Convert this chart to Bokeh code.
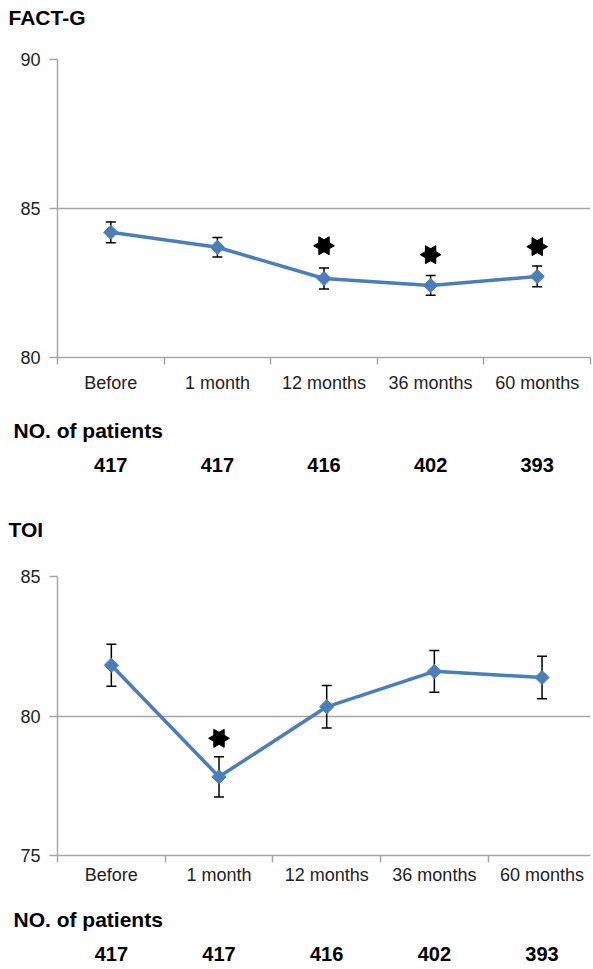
from bokeh.plotting import figure
from bokeh.layouts import column
from bokeh.models import (Range1d, FixedTicker, LinearAxis, Title, Whisker,
                          ColumnDataSource, TeeHead)
from bokeh.embed import file_html
from bokeh.resources import INLINE
import math

# ---------------- data ----------------
categories = ["Before", "1 month", "12 months", "36 months", "60 months"]
patients = [417, 417, 416, 402, 393]

factg_mean = [84.2, 83.7, 82.65, 82.42, 82.72]
factg_err = [0.35, 0.33, 0.35, 0.33, 0.35]
factg_star_cats = ["12 months", "36 months", "60 months"]
factg_star_y = [83.75, 83.45, 83.72]

toi_mean = [81.82, 77.82, 80.33, 81.6, 81.38]
toi_err = [0.75, 0.72, 0.76, 0.75, 0.76]
toi_star_cats = ["1 month"]
toi_star_y = [79.2]

factg_ticks = [80, 85, 90]
toi_ticks = [75, 80, 85]

# ---------------- style ----------------
FONT = "Liberation Sans"
BLUE = "#4A7EBB"
GRAY = "#A6A6A6"
TXT = "#222222"


def spacer(size, at):
    # blank axis (one white tick, empty label, no line) that only reserves space
    a = LinearAxis(ticker=FixedTicker(ticks=[at], minor_ticks=[]),
                   major_label_overrides={at: ""})
    a.axis_line_color = None
    a.major_tick_line_color = "white"
    a.major_tick_line_width = 1
    a.minor_tick_line_color = None
    a.major_label_text_color = None
    a.major_label_text_font_size = "1px"
    a.major_tick_out = int(round(size))
    a.major_tick_in = 0
    a.minor_tick_out = 0
    a.minor_tick_in = 0
    a.major_label_standoff = 0
    return a


def make_panel(title, mean, err, star_cats, star_y, yticks, x_end, height,
               border_top, border_bottom, border_right, title_gap,
               xlab_standoff, no_gap, cnt_standoff):
    centers = [i + 0.5 for i in range(len(categories))]
    bounds = [float(i) for i in range(len(categories) + 1)]

    p = figure(width=593, height=height, output_backend="svg",
               toolbar_location=None, tools="",
               x_range=Range1d(0, x_end),
               y_range=Range1d(yticks[0], yticks[-1]),
               min_border_left=57, min_border_right=border_right,
               min_border_top=border_top, min_border_bottom=border_bottom)
    p.outline_line_color = None
    p.background_fill_color = "white"
    p.border_fill_color = "white"

    # the default axes, captured before any extra panel is added
    xa = p.xaxis[0]
    ya = p.yaxis[0]

    # grid
    p.xgrid.visible = False
    p.ygrid.ticker = FixedTicker(ticks=yticks)
    p.ygrid.grid_line_color = GRAY
    p.ygrid.grid_line_width = 1.5

    # y axis
    ya.ticker = FixedTicker(ticks=yticks)
    ya.axis_line_color = GRAY
    ya.axis_line_width = 1.5
    ya.major_tick_line_color = GRAY
    ya.major_tick_line_width = 1.5
    ya.major_tick_out = 8
    ya.major_tick_in = 0
    ya.minor_tick_line_color = None
    ya.major_label_standoff = 9
    ya.major_label_text_font = FONT
    ya.major_label_text_font_size = "18px"
    ya.major_label_text_color = TXT

    # x axis with category labels centred and boundary ticks
    xa.ticker = FixedTicker(ticks=centers, minor_ticks=bounds)
    xa.major_label_overrides = {c: lab for c, lab in zip(centers, categories)}
    xa.axis_line_color = GRAY
    xa.axis_line_width = 1.5
    xa.major_tick_line_color = None
    xa.major_tick_out = 0
    xa.major_tick_in = 0
    xa.minor_tick_line_color = GRAY
    xa.minor_tick_line_width = 1.5
    xa.minor_tick_out = 7
    xa.minor_tick_in = 0
    xa.major_label_standoff = xlab_standoff
    xa.major_label_text_font = FONT
    xa.major_label_text_font_size = "18px"
    xa.major_label_text_color = TXT

    # title (spacer first: closest to frame)
    p.add_layout(spacer(title_gap, centers[2]), "above")
    t = Title(text=title, align="left", offset=-49, standoff=0,
              text_font=FONT, text_font_size="21px", text_font_style="bold",
              text_color="black")
    p.add_layout(t, "above")

    # "NO. of patients"
    p.add_layout(spacer(no_gap, centers[2]), "below")
    nt = Title(text="NO. of patients", align="left", offset=-44,
               standoff=0, text_font=FONT, text_font_size="21px",
               text_font_style="bold", text_color="black")
    p.add_layout(nt, "below")

    # patient counts as an extra axis
    ca = LinearAxis(ticker=FixedTicker(ticks=centers, minor_ticks=[]),
                    major_label_overrides={c: str(n) for c, n in zip(centers, patients)})
    ca.axis_line_color = None
    ca.major_tick_line_color = None
    ca.minor_tick_line_color = None
    ca.major_tick_out = 0
    ca.major_tick_in = 0
    ca.minor_tick_out = 0
    ca.major_label_standoff = cnt_standoff
    ca.major_label_text_font = FONT
    ca.major_label_text_font_size = "20px"
    ca.major_label_text_font_style = "bold"
    ca.major_label_text_color = "black"
    p.add_layout(ca, "below")

    # data
    src = ColumnDataSource(dict(
        x=centers, y=mean,
        lo=[m - e for m, e in zip(mean, err)],
        hi=[m + e for m, e in zip(mean, err)]))
    w = Whisker(source=src, base="x", lower="lo", upper="hi",
                line_color="black", line_width=1.5,
                upper_head=TeeHead(size=10, line_color="black", line_width=1.5),
                lower_head=TeeHead(size=10, line_color="black", line_width=1.5))
    p.add_layout(w)
    p.line("x", "y", source=src, line_color=BLUE, line_width=3.5)
    p.scatter("x", "y", source=src, marker="square", angle=math.pi / 4,
              size=10, fill_color=BLUE, line_color=BLUE)

    sx = [categories.index(c) + 0.5 for c in star_cats]
    ssrc = ColumnDataSource(dict(x=sx, y=star_y))
    for mk in ("triangle", "inverted_triangle"):
        p.scatter("x", "y", source=ssrc, marker=mk, size=18, angle=math.pi / 2,
                  fill_color="black", line_color="black")
    return p


p1 = make_panel("FACT-G", factg_mean, factg_err, factg_star_cats, factg_star_y,
                factg_ticks, 5.0, 482, 59, 125, 3, 31, 8, 21, 16)
p2 = make_panel("TOI", toi_mean, toi_err, toi_star_cats, toi_star_y,
                toi_ticks, 4.95, 487, 94, 114, 0, 36, 2, 18, 16)

layout = column(p1, p2, spacing=0)
open("out.html", "w").write(file_html(layout, INLINE))
